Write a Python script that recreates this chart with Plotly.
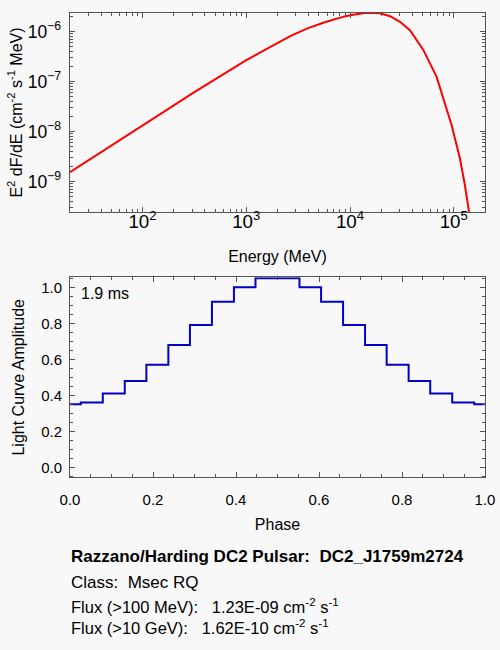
import plotly.graph_objects as go

# spectrum (MeV, cm^-2 s^-1 MeV)
energy_mev = [20, 100, 316, 1000, 1780, 2650, 3840, 5530, 8020, 10000, 14450,
              19400, 24300, 30300, 37800, 50700, 68200, 78900, 95100, 114300,
              127600, 140300]
e2_dfde = [1.55e-9, 1.35e-8, 6.17e-8, 2.69e-7, 5.25e-7, 8.13e-7, 1.15e-6, 1.51e-6,
           1.91e-6, 2.14e-6, 2.40e-6, 2.34e-6, 2.04e-6, 1.58e-6, 1.07e-6, 4.37e-7,
           1.26e-7, 5.01e-8, 1.38e-8, 3.02e-9, 8.9e-10, 2.5e-10]

# light curve steps (bin edges and amplitude in each bin)
phase_edges = [0.0, 0.026, 0.079, 0.132, 0.184, 0.237, 0.289, 0.342, 0.395, 0.447,
               0.553, 0.605, 0.658, 0.711, 0.763, 0.816, 0.868, 0.921, 0.974, 1.0]
amplitude = [0.35, 0.36, 0.41, 0.48, 0.57, 0.68, 0.79, 0.92, 1.0, 1.05,
             1.0, 0.92, 0.79, 0.68, 0.57, 0.48, 0.41, 0.36, 0.35]

period_label = "1.9 ms"
source_title = "Razzano/Harding DC2 Pulsar:  DC2_J1759m2724"
class_line = "Class:  Msec RQ"
flux_lines = [
    "Flux (>100 MeV):   1.23E-09 cm<sup>-2</sup> s<sup>-1</sup>",
    "Flux (>10 GeV):   1.62E-10 cm<sup>-2</sup> s<sup>-1</sup>",
]

FONT = "Liberation Sans, Arial, Helvetica, sans-serif"
FRAME = "#555555"
BG = "#f8f8f8"
W, H = 500, 650

fig = go.Figure()
fig.add_trace(go.Scatter(x=energy_mev, y=e2_dfde, mode="lines",
                         line=dict(color="#ff0000", width=2), xaxis="x", yaxis="y",
                         showlegend=False))
fig.add_trace(go.Scatter(x=phase_edges, y=amplitude + [amplitude[-1]], mode="lines",
                         line_shape="hv", line=dict(color="#0000c8", width=2),
                         xaxis="x2", yaxis="y2", showlegend=False))

axis_common = dict(showline=True, linecolor=FRAME, linewidth=1, mirror="allticks",
                   ticks="inside", tickcolor=FRAME, ticklen=5, showgrid=False,
                   zeroline=False, automargin=False,
                   tickfont=dict(size=15, color="#000"),
                   title_font=dict(size=16, color="#000"))

fig.update_layout(
    width=W, height=H,
    margin=dict(l=0, r=0, t=0, b=0),
    paper_bgcolor=BG, plot_bgcolor=BG,
    font=dict(family=FONT, color="#000"),
    xaxis=dict(axis_common, type="log", domain=[70 / W, 485 / W], anchor="y",
               range=[1.301, 5.301], dtick=1, exponentformat="power",
               ticklabelstandoff=-7,
               minor=dict(ticks="inside", ticklen=3, dtick="D1", tickcolor=FRAME),
               title=dict(text="Energy (MeV)", standoff=20)),
    yaxis=dict(axis_common, type="log", domain=[1 - 212 / H, 1 - 13 / H], anchor="x",
               range=[-9.606, -5.626], dtick=1, exponentformat="power",
               ticklabelstandoff=5, tickfont=dict(size=14, color="#000"),
               minor=dict(ticks="inside", ticklen=3, dtick="D1", tickcolor=FRAME),
               title=dict(text="E<sup>2</sup> dF/dE (cm<sup>-2</sup> s<sup>-1</sup> MeV)",
                          standoff=1)),
    xaxis2=dict(axis_common, domain=[70 / W, 485 / W], anchor="y2",
                range=[0, 1], dtick=0.2, tickformat=".1f", ticklabelstandoff=9,
                minor=dict(ticks="inside", ticklen=3, dtick=0.05, tickcolor=FRAME),
                title=dict(text="Phase", standoff=11)),
    yaxis2=dict(axis_common, domain=[1 - 477.3 / H, 1 - 277.3 / H], anchor="x2",
                range=[-0.0556, 1.0556], dtick=0.2, tickformat=".1f",
                ticklabelstandoff=4,
                minor=dict(ticks="inside", ticklen=3, dtick=0.05, tickcolor=FRAME),
                title=dict(text="Light Curve Amplitude", standoff=12)),
)

fig.add_annotation(text=period_label, xref="paper", yref="paper",
                   x=79 / W, y=1 - 293 / H, xanchor="left", yanchor="middle",
                   showarrow=False, font=dict(size=16))

fig.add_annotation(text="<b>" + source_title + "</b>", xref="paper", yref="paper",
                   x=69 / W, y=1 - 556 / H, xanchor="left", yanchor="middle",
                   showarrow=False, font=dict(size=17))
fig.add_annotation(text=class_line, xref="paper", yref="paper",
                   x=69 / W, y=1 - 582 / H, xanchor="left", yanchor="middle",
                   showarrow=False, font=dict(size=17))
fig.add_annotation(text="<br>".join(flux_lines), xref="paper", yref="paper",
                   x=69 / W, y=1 - 616 / H, xanchor="left", yanchor="middle",
                   align="left", showarrow=False, font=dict(size=16.5))

# drop the page's default body margin so the figure sits at the window corner
fig.write_html("out.html", config={"displayModeBar": False},
               post_script="document.body.style.margin='0';"
                           "document.body.style.background='%s';" % BG)
